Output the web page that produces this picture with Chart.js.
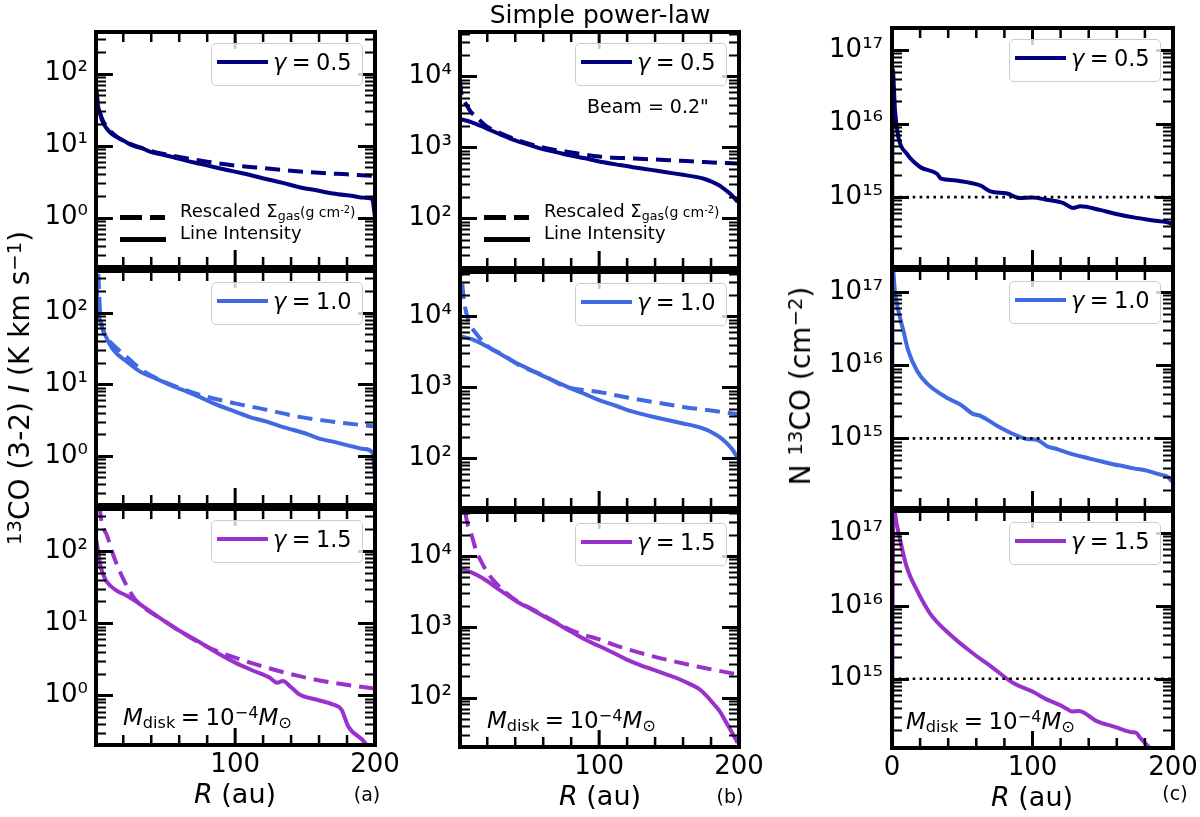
<!DOCTYPE html>
<html><head><meta charset="utf-8">
<script src="https://cdn.jsdelivr.net/npm/chart.js@4.4.1/dist/chart.umd.min.js"></script>
<style>
html,body{margin:0;padding:0;background:#fff;}
#fig{position:relative;width:1200px;height:817px;overflow:hidden;font-family:'DejaVu Sans',sans-serif;color:#000;}
canvas{position:absolute;}
.t{position:absolute;white-space:nowrap;line-height:1;}
.sub{font-size:0.7em;position:relative;top:0.22em;}
.sup{font-size:0.7em;position:relative;top:-0.42em;}
.leg{position:absolute;box-sizing:border-box;width:152px;height:43px;border:1px solid #ccc;border-radius:5px;background:rgba(255,255,255,0.8);}
.bar{position:absolute;}
</style></head>
<body><div id="fig"></div>
<script>
// ================= DATA =================
// Panel (a): 13CO(3-2) integrated intensity (solid) and rescaled Sigma_gas (dashed), K km/s
const R_a05_int = [0.7, 1.5, 2.5, 3.6, 5, 8, 12, 16, 21, 27, 33, 39, 47, 56, 65, 75, 87, 99, 110, 122, 134, 146, 158, 170, 184, 192, 198, 200];
const I_a05     = [55, 40, 32, 27.5, 22, 17.5, 14.5, 13, 11.5, 10, 9.3, 8.3, 7.6, 6.9, 6.2, 5.6, 4.95, 4.4, 3.95, 3.45, 3.05, 2.65, 2.4, 2.17, 2.0, 1.9, 1.82, 1.0];
const R_a05_sig = [0.7, 2, 4, 8, 15, 25, 35, 50, 65, 80, 100, 120, 140, 160, 180, 200];
const S_a05     = [62, 37, 26, 18.5, 13.5, 10.6, 9.0, 7.6, 6.7, 6.0, 5.3, 4.9, 4.5, 4.2, 4.0, 3.8];

const R_a10_int = [0.7, 1.2, 1.9, 3.6, 7, 13, 22.6, 32, 42, 51, 58, 65.5, 75, 84.5, 100, 110, 122.6, 132, 141.7, 152, 160.7, 170, 184, 192, 198, 200];
const I_a10     = [380, 200, 110, 75, 49, 30, 20.6, 15, 12.3, 10.3, 9.0, 7.9, 6.6, 5.4, 4.15, 3.5, 3.0, 2.6, 2.3, 2.0, 1.73, 1.58, 1.35, 1.25, 1.13, 0.5];
const R_a10_sig = [0.7, 1.6, 2.5, 3.3, 4.8, 8, 13, 22.6, 32, 45, 60, 75, 100, 122.6, 146, 170, 200];
const S_a10     = [1500, 600, 250, 110, 63, 45, 35, 24, 16.5, 11.8, 8.9, 7.1, 5.4, 4.4, 3.5, 3.0, 2.57];

const R_a15_int = [0.7, 1.5, 2.5, 3.6, 5.5, 8.4, 15.5, 22.6, 32, 44, 58, 75, 87, 100, 113, 125, 130, 134, 140, 146, 158, 170, 176, 181, 193, 200];
const I_a15     = [140, 115, 85, 63, 48, 37, 28, 24, 18.3, 12.6, 8.3, 5.4, 3.9, 2.85, 2.2, 1.75, 1.5, 1.58, 1.3, 1.03, 0.88, 0.75, 0.64, 0.37, 0.22, 0.12];
const R_a15_sig = [3.2, 3.6, 5, 8.4, 13, 20, 27.4, 34.5, 45, 60, 75, 87, 100, 122.6, 146, 170, 200];
const S_a15     = [420, 330, 230, 163, 86, 41, 22.8, 16.5, 12.2, 7.9, 5.3, 4.1, 3.33, 2.43, 1.85, 1.5, 1.24];

// Panel (b): same, convolved with 0.2" beam
const R_b05_int = [0.5, 9, 19, 30, 40, 50, 59, 70, 78, 90, 100, 112, 124, 136, 148, 160, 170, 176, 181, 186, 191, 195, 199];
const I_b05     = [2500, 2250, 1860, 1500, 1250, 1080, 950, 850, 780, 700, 630, 575, 525, 485, 445, 410, 380, 355, 325, 290, 245, 210, 170];
const R_b05_sig = [0.5, 1.5, 3, 5, 8, 12, 19, 30, 40, 59, 78, 100, 125, 150, 175, 199];
const S_b05     = [8800, 5500, 4600, 4000, 3200, 2700, 2000, 1560, 1300, 1000, 860, 740, 695, 660, 620, 590];

const R_b10_int = [0.5, 9, 19, 30, 40, 50, 59, 70, 78, 90, 100, 112, 124, 136, 148, 160, 170, 176, 181, 186, 191, 195, 199];
const I_b10     = [5250, 4750, 3830, 2900, 2240, 1800, 1470, 1180, 1000, 800, 660, 550, 455, 395, 350, 310, 280, 255, 230, 200, 165, 135, 103];
const R_b10_sig = [0.5, 1.7, 3, 5.2, 8, 12.4, 21, 30, 45, 60, 76, 100, 120, 138, 160, 180, 199];
const S_b10     = [60000, 36000, 19000, 10700, 7500, 5600, 3700, 2950, 1950, 1470, 1020, 860, 720, 625, 530, 470, 420];

const R_b15_int = [0.5, 7, 14, 21, 28, 35, 42, 52, 62, 72, 81, 90, 100, 110, 119, 128, 138, 148, 157, 165, 172, 177, 181, 186, 191, 195, 199];
const I_b15     = [6600, 6100, 5250, 4300, 3400, 2750, 2230, 1750, 1360, 1050, 830, 660, 535, 430, 350, 295, 250, 213, 183, 155, 130, 105, 85, 65, 44, 32, 23];
const R_b15_sig = [0.5, 2, 4.1, 6, 8.9, 12, 16, 20, 25.7, 32, 42, 52, 62, 72, 81, 90, 100, 115, 138, 155, 170, 185, 199];
const S_b15     = [400000, 150000, 45000, 28000, 19400, 12000, 8150, 5900, 4250, 3200, 2260, 1780, 1390, 1080, 880, 760, 665, 520, 385, 320, 275, 240, 213];

// Panel (c): 13CO column density, cm^-2
const R_c05 = [0, 0.5, 2.1, 4.5, 10.5, 20, 32, 35, 44, 53, 63, 70, 82, 91, 100, 110, 122, 129, 134, 148, 158, 172, 186, 199, 200];
const N_c05 = [1e14, 5.5e16, 1.55e16, 6.6e15, 3.9e15, 2.57e15, 2.08e15, 1.78e15, 1.7e15, 1.6e15, 1.44e15, 1.2e15, 1.12e15, 9.7e14, 9.9e14, 9.2e14, 8.3e14, 7.1e14, 7.5e14, 6.7e14, 6.0e14, 5.3e14, 4.8e14, 4.35e14, 4.2e14];
const R_c10 = [0, 0.5, 2, 4, 8, 11.5, 18, 25, 39, 48.6, 58, 62.5, 75, 86.7, 96, 103, 110.5, 118, 129.5, 139, 150, 158, 164, 172, 182, 191, 196, 200];
const N_c10 = [1e14, 2.2e17, 1.05e17, 6.2e16, 3.0e16, 1.6e16, 8.3e15, 5.6e15, 3.6e15, 2.9e15, 2.15e15, 2.05e15, 1.48e15, 1.14e15, 9.8e14, 9.6e14, 7.8e14, 7.1e14, 6.0e14, 5.4e14, 4.8e14, 4.4e14, 4.2e14, 3.9e14, 3.6e14, 3.2e14, 3.0e14, 2.5e14];
const R_c15 = [0, 1, 2, 6, 10.5, 18, 27, 41.5, 58, 72, 86, 101, 110, 120, 125, 128, 133, 146, 158, 170, 174, 176, 182, 186];
const N_c15 = [1e14, 3e17, 1.9e17, 7.7e16, 3.4e16, 1.6e16, 7.9e15, 4.0e15, 2.2e15, 1.4e15, 8.8e14, 6.5e14, 5.2e14, 4.3e14, 3.8e14, 3.55e14, 3.6e14, 2.6e14, 2.2e14, 1.85e14, 1.8e14, 1.6e14, 1.2e14, 1.0e14];
const N_thresh_R = [0, 200];
const N_thresh   = [1e15, 1e15];

// tick labels
const xTicks_ab = [100, 200];
const xTicks_c  = [0, 100, 200];
const yDecades_a = [1, 10, 100];
const yDecades_b = [100, 1000, 10000];
const yDecades_c = [1e15, 1e16, 1e17];
const gammaLabels = ['0.5', '1.0', '1.5'];

// ================= LAYOUT / STYLE =================
const fig = document.getElementById('fig');
const FAM = "'DejaVu Sans'";
const COLORS = ['#000080', '#4169e1', '#9932cc'];
const COLS = [
  {L:96,  R:375,  rows:[[32,267],[271,505],[509,745]], xmin:0.5, ymin:0.2065, ymax:380,    ML:75, xt:xTicks_ab, yd:yDecades_a, ypad:8},
  {L:460, R:739,  rows:[[32,268],[272,508],[512,747]], xmin:0.5, ymin:20,     ymax:42000,  ML:75, xt:xTicks_ab, yd:yDecades_b, ypad:8},
  {L:892, R:1173, rows:[[28,267],[270,508],[511,748]], xmin:0,   ymin:1.12e14,ymax:2.0e17, ML:80, xt:xTicks_c,  yd:yDecades_c, ypad:9}
];
const SUP = {'0':'⁰','1':'¹','2':'²','3':'³','4':'⁴','5':'⁵','6':'⁶','7':'⁷','8':'⁸','9':'⁹','-':'⁻'};
function pow10Label(v){ const k = Math.round(Math.log10(v)); return '10' + String(k).split('').map(c=>SUP[c]).join(''); }
function pts(R, V){ return R.map((r,i)=>({x:r, y:V[i]})); }

const frameTicks = {
  id:'frameTicks',
  afterDatasetsDraw(chart){
    const {ctx, chartArea:a, scales:{x, y}} = chart;
    ctx.save(); ctx.strokeStyle = '#000'; ctx.lineCap = 'butt';
    const lo = Math.floor(Math.log10(y.min)), hi = Math.ceil(Math.log10(y.max));
    for (let k = lo; k <= hi; k++) for (let m = 1; m <= 9; m++) {
      const v = m*Math.pow(10,k);
      if (v < y.min || v > y.max) continue;
      const py = Math.round(y.getPixelForValue(v)) + 0.5;
      const len = m===1 ? 17 : 10;
      ctx.lineWidth = m===1 ? 3 : 2;
      ctx.beginPath();
      ctx.moveTo(a.left, py); ctx.lineTo(a.left+len, py);
      ctx.moveTo(a.right, py); ctx.lineTo(a.right-len, py);
      ctx.stroke();
    }
    for (let t = 0; t <= 200; t += 20) {
      if (t < x.min || t > x.max) continue;
      const px = x.getPixelForValue(t);
      const major = t % 100 === 0;
      const len = major ? 17 : 10;
      ctx.lineWidth = major ? 3 : 2.5;
      ctx.beginPath();
      ctx.moveTo(px, a.bottom); ctx.lineTo(px, a.bottom-len);
      ctx.moveTo(px, a.top); ctx.lineTo(px, a.top+len);
      ctx.stroke();
    }
    ctx.lineWidth = 4;
    ctx.strokeRect(a.left, a.top, a.right-a.left, a.bottom-a.top);
    ctx.restore();
  }
};

function makePanel(col, row, datasets){
  const c = COLS[col]; const [T,B] = c.rows[row];
  const MT = 30, MR = 40, MB = row===2 ? 50 : 30, ML = c.ML;
  const W = c.R - c.L, H = B - T;
  const cv = document.createElement('canvas');
  cv.width = W+ML+MR; cv.height = H+MT+MB;
  cv.style.left = (c.L-ML)+'px'; cv.style.top = (T-MT)+'px';
  cv.style.width = cv.width+'px'; cv.style.height = cv.height+'px';
  fig.appendChild(cv);
  new Chart(cv, {
    type:'line',
    data:{datasets},
    options:{
      responsive:false, animation:false, events:[],
      layout:{padding:{top:MT, right:MR, left:0, bottom:0}},
      plugins:{legend:{display:false}, tooltip:{enabled:false}},
      elements:{point:{radius:0}, line:{cubicInterpolationMode:'monotone', borderCapStyle:'butt'}},
      scales:{
        x:{type:'linear', min:c.xmin, max:200,
           grid:{display:false, drawTicks:false}, border:{display:false},
           ticks:{display: row===2, padding:5, color:'#000', font:{family:FAM, size:26}, maxRotation:0, autoSkip:false, callback:v=>String(v)},
           afterBuildTicks:s=>{ s.ticks = c.xt.map(v=>({value:v})); },
           afterFit:s=>{ s.height = MB; }},
        y:{type:'logarithmic', min:c.ymin, max:c.ymax,
           grid:{display:false, drawTicks:false}, border:{display:false},
           ticks:{padding:c.ypad, color:'#000', font:{family:FAM, size:26}, autoSkip:false, callback:v=>pow10Label(v)},
           afterBuildTicks:s=>{ s.ticks = c.yd.map(v=>({value:v})); },
           afterFit:s=>{ s.width = ML; }}
      }
    },
    plugins:[frameTicks]
  });
}
function lineDs(R, V, color, dashed){
  return {data:pts(R,V), borderColor:color, borderWidth:4, borderDash: dashed ? [15,8] : [], fill:false, clip:0, pointRadius:0};
}
function dottedDs(){
  return {data:pts(N_thresh_R, N_thresh), borderColor:'#000', borderWidth:2.6, borderDash:[2.6,4.3], fill:false, clip:0, pointRadius:0, cubicInterpolationMode:'default', tension:0};
}

// column a
makePanel(0,0,[lineDs(R_a05_sig,S_a05,COLORS[0],true), lineDs(R_a05_int,I_a05,COLORS[0],false)]);
makePanel(0,1,[lineDs(R_a10_sig,S_a10,COLORS[1],true), lineDs(R_a10_int,I_a10,COLORS[1],false)]);
makePanel(0,2,[lineDs(R_a15_sig,S_a15,COLORS[2],true), lineDs(R_a15_int,I_a15,COLORS[2],false)]);
// column b
makePanel(1,0,[lineDs(R_b05_sig,S_b05,COLORS[0],true), lineDs(R_b05_int,I_b05,COLORS[0],false)]);
makePanel(1,1,[lineDs(R_b10_sig,S_b10,COLORS[1],true), lineDs(R_b10_int,I_b10,COLORS[1],false)]);
makePanel(1,2,[lineDs(R_b15_sig,S_b15,COLORS[2],true), lineDs(R_b15_int,I_b15,COLORS[2],false)]);
// column c
makePanel(2,0,[dottedDs(), lineDs(R_c05,N_c05,COLORS[0],false)]);
makePanel(2,1,[dottedDs(), lineDs(R_c10,N_c10,COLORS[1],false)]);
makePanel(2,2,[dottedDs(), lineDs(R_c15,N_c15,COLORS[2],false)]);

// ================= TEXT =================
function addText(html, x, baseline, size, align){
  const d = document.createElement('div'); d.className='t'; d.innerHTML = html;
  d.style.fontSize = size+'px';
  d.style.top = (baseline - 0.846*size)+'px';
  d.style.left = x+'px';
  if (align==='center') d.style.transform = 'translateX(-50%)';
  fig.appendChild(d); return d;
}
function addVText(html, cx, cy, size){
  const d = document.createElement('div'); d.className='t'; d.innerHTML = html;
  d.style.fontSize = size+'px'; d.style.left = cx+'px'; d.style.top = cy+'px';
  d.style.transform = 'translate(-50%,-50%) rotate(-90deg)';
  fig.appendChild(d); return d;
}
function addBar(x, y, w, h, color, parent){
  const d = document.createElement('div'); d.className='bar';
  d.style.left=x+'px'; d.style.top=y+'px'; d.style.width=w+'px'; d.style.height=h+'px'; d.style.background=color;
  (parent||fig).appendChild(d); return d;
}
function addLegend(col, row, gi){
  const c = COLS[col]; const T = c.rows[row][0];
  const box = document.createElement('div'); box.className='leg';
  box.style.left = (c.R-12-152)+'px'; box.style.top = (T+11)+'px';
  addBar(5, 16, 51, 4, COLORS[gi], box);
  const t = document.createElement('div'); t.className='t';
  t.style.fontSize='22.5px'; t.style.left='61px'; t.style.top=(26-0.846*22.5)+'px'; t.style.wordSpacing='-0.08em';
  t.innerHTML = '<i>γ</i> = ' + gammaLabels[gi];
  box.appendChild(t);
  fig.appendChild(box);
}
for (let col=0; col<3; col++) for (let row=0; row<3; row++) addLegend(col,row,row);

// style legend (dashed/solid) in a and b top panels
function styleLegend(col){
  const c = COLS[col]; const T = c.rows[0][0]; const x0 = c.L + 24;
  addBar(x0, T+183, 22, 4.5, '#000'); addBar(x0+30, T+183, 15, 4.5, '#000');
  addBar(x0, T+205, 46, 4.5, '#000');
  addText('Rescaled Σ<span class="sub">gas</span><span style="font-size:0.78em">(g cm<span class="sup">-2</span>)</span>', c.L+84, T+185.5, 18);
  addText('Line Intensity', c.L+84, T+207, 18);
}
styleLegend(0); styleLegend(1);

addText('Simple power-law', 600, 23, 25, 'center');
addText('Beam = 0.2"', 587, 113, 19);

const mdisk = '<i>M</i><span class="sub">disk</span> = 10<span class="sup">−4</span><i>M</i><span class="sub">⊙</span>';
addText(mdisk, 123, 725, 23).style.wordSpacing='-0.08em';
addText(mdisk, 487, 728, 23).style.wordSpacing='-0.08em';
addText(mdisk, 906, 729, 23).style.wordSpacing='-0.08em';

addText('<i>R</i> (au)', 235, 803, 27, 'center');
addText('<i>R</i> (au)', 600, 805, 27, 'center');
addText('<i>R</i> (au)', 1032, 806, 27, 'center');
addText('(a)', 367, 801, 19, 'center');
addText('(b)', 730, 803, 19, 'center');
addText('(c)', 1175, 800, 19, 'center');

addVText('<span class="sup">13</span>CO (3-2) <i>I</i> (K km s<span class="sup">−1</span>)', 20, 388, 28);
addVText('N <span class="sup">13</span>CO (cm<span class="sup">−2</span>)', 801, 386, 28);
</script>
</body></html>
